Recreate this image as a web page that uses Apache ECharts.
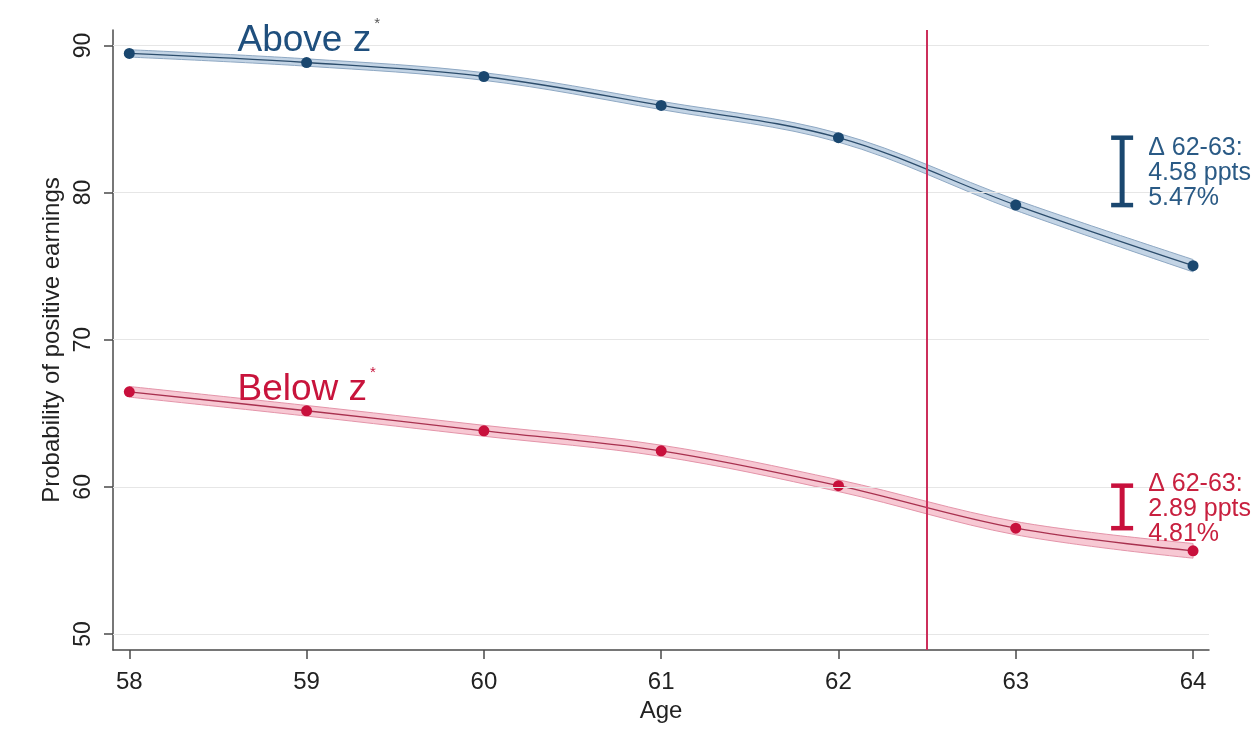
<!DOCTYPE html>
<html>
<head>
<meta charset="utf-8">
<script src="https://cdn.jsdelivr.net/npm/echarts@6/dist/echarts.min.js"></script>
<style>
html,body{margin:0;padding:0;background:#fff;}
#chart{width:1259px;height:746px;}
</style>
</head>
<body>
<div id="chart"></div>
<script>
const ages = [58, 59, 60, 61, 62, 63, 64];
const aboveVals = [89.46, 88.84, 87.89, 85.92, 83.73, 79.15, 75.03];
const belowVals = [66.46, 65.17, 63.81, 62.45, 60.08, 57.19, 55.65];
const aboveHalfCI = [0.25, 0.25, 0.26, 0.28, 0.30, 0.36, 0.42];
const belowHalfCI = [0.36, 0.36, 0.37, 0.38, 0.40, 0.45, 0.50];
const yTicks = [50, 60, 70, 80, 90];
const xTicks = [58, 59, 60, 61, 62, 63, 64];
const groupNames = ['Above z', 'Below z'];
const aboveDeltaText = ['Δ 62-63:', '4.58 ppts', '5.47%'];
const belowDeltaText = ['Δ 62-63:', '2.89 ppts', '4.81%'];
const cutoffAge = 62.5;
const deltaBarAge = 63.6;
const labelAge = 58.61;

const BLUE = '#1a476f';
const RED = '#c8103c';
const FONT = 'Liberation Sans, Arial, sans-serif';
const SMOOTH = 0.35;

function pairs(xs, ys) { return xs.map((x, i) => [x, ys[i]]); }

function smoothSegs(pts, smooth, start) {
  let d = (start ? 'M' : 'L') + pts[0][0] + ' ' + pts[0][1];
  let cp0 = pts[0].slice();
  const n = pts.length;
  for (let i = 1; i < n; i++) {
    const cur = pts[i], prev = pts[i - 1];
    let cp1, nextCp0;
    if (i === n - 1) {
      cp1 = cur.slice();
      nextCp0 = cur.slice();
    } else {
      const next = pts[i + 1];
      const vx = next[0] - prev[0], vy = next[1] - prev[1];
      const l0 = Math.hypot(cur[0] - prev[0], cur[1] - prev[1]);
      const l1 = Math.hypot(next[0] - cur[0], next[1] - cur[1]);
      const r = l1 / (l0 + l1);
      cp1 = [cur[0] - vx * smooth * (1 - r), cur[1] - vy * smooth * (1 - r)];
      nextCp0 = [cur[0] + vx * smooth * r, cur[1] + vy * smooth * r];
      for (let k = 0; k < 2; k++) {
        cp1[k] = Math.min(cp1[k], Math.max(prev[k], cur[k]));
        cp1[k] = Math.max(cp1[k], Math.min(prev[k], cur[k]));
        nextCp0[k] = Math.min(nextCp0[k], Math.max(next[k], cur[k]));
        nextCp0[k] = Math.max(nextCp0[k], Math.min(next[k], cur[k]));
      }
    }
    d += ' C' + cp0[0] + ' ' + cp0[1] + ' ' + cp1[0] + ' ' + cp1[1] + ' ' + cur[0] + ' ' + cur[1];
    cp0 = nextCp0;
  }
  return d;
}

const bands = [
  { vals: aboveVals, ci: aboveHalfCI, fill: '#c3d4e5', edge: '#8ea8c3' },
  { vals: belowVals, ci: belowHalfCI, fill: '#f7c8d3', edge: '#e494a9' }
];

const chart = echarts.init(document.getElementById('chart'), null, { renderer: 'canvas' });

const option = {
  animation: false,
  backgroundColor: '#ffffff',
  textStyle: { fontFamily: FONT },
  grid: { left: 113, right: 50, top: 30, bottom: 96, containLabel: false },
  xAxis: {
    type: 'value', min: 57.908, max: 64.09,
    name: 'Age', nameLocation: 'middle', nameGap: 45,
    nameTextStyle: { fontSize: 24, color: '#222', fontFamily: FONT },
    axisLine: { show: true, onZero: false, lineStyle: { color: '#4a4a4a', width: 1.5 } },
    axisTick: { show: true, length: 9, customValues: xTicks, lineStyle: { color: '#4a4a4a', width: 1.5 } },
    axisLabel: { customValues: xTicks, fontSize: 24, color: '#222', margin: 20, fontFamily: FONT },
    splitLine: { show: false }
  },
  yAxis: {
    type: 'value', min: 48.91, max: 91.05,
    name: 'Probability of positive earnings', nameLocation: 'middle', nameGap: 44,
    nameTextStyle: { fontSize: 24, color: '#222', fontFamily: FONT },
    axisLine: { show: true, onZero: false, lineStyle: { color: '#4a4a4a', width: 1.5 } },
    axisTick: { show: true, length: 9, customValues: yTicks, lineStyle: { color: '#4a4a4a', width: 1.5 } },
    axisLabel: { customValues: yTicks, rotate: 90, fontSize: 23, color: '#222', margin: 18, fontFamily: FONT },
    splitLine: { show: false }
  },
  series: [
    {
      type: 'line', data: [], silent: true,
      markLine: {
        silent: true, symbol: 'none', animation: false,
        label: { show: false },
        lineStyle: { color: '#e6e6e6', width: 1.2, type: 'solid' },
        data: yTicks.map(v => ({ yAxis: v }))
      },
      z: 0
    },
    {
      type: 'custom', silent: true, z: 1,
      data: [[ages[0], bands[0].vals[0], 0], [ages[0], bands[1].vals[0], 1]],
      encode: { x: 0, y: 1 },
      renderItem: function (params, api) {
        const b = bands[api.value(2)];
        const up = ages.map((a, i) => api.coord([a, b.vals[i] + b.ci[i]]));
        const lo = ages.map((a, i) => api.coord([a, b.vals[i] - b.ci[i]])).reverse();
        const d = smoothSegs(up, SMOOTH, true) + ' ' + smoothSegs(lo, SMOOTH, false) + ' Z';
        return {
          type: 'path',
          shape: { pathData: d },
          style: { fill: b.fill, stroke: b.edge, lineWidth: 1 }
        };
      }
    },
    {
      type: 'line', name: 'above', smooth: SMOOTH, data: pairs(ages, aboveVals),
      symbol: 'circle', symbolSize: 11,
      itemStyle: { color: BLUE },
      lineStyle: { color: '#2c4d6c', width: 1.3 }, z: 3
    },
    {
      type: 'line', name: 'below', smooth: SMOOTH, data: pairs(ages, belowVals),
      symbol: 'circle', symbolSize: 11,
      itemStyle: { color: RED },
      lineStyle: { color: '#a8314f', width: 1.3 }, z: 3,
      markLine: {
        silent: true, symbol: 'none', animation: false,
        label: { show: false },
        lineStyle: { color: '#cc2f5b', width: 2, type: 'solid' },
        data: [{ xAxis: cutoffAge }]
      }
    },
    {
      type: 'custom', silent: true, z: 5,
      data: [
        [labelAge, 90.3, 0],
        [labelAge, 66.58, 1]
      ],
      encode: { x: 0, y: 1 },
      renderItem: function (params, api) {
        const p = api.coord([api.value(0), api.value(1)]);
        const idx = api.value(2);
        const k = idx === 0 ? 'B' : 'R';
        return {
          type: 'text',
          style: {
            text: '{a' + k + '|' + groupNames[idx] + '}{s' + k + '|*}',
            x: p[0], y: p[1], align: 'left', verticalAlign: 'middle',
            rich: {
              aB: { fontSize: 37, fontFamily: FONT, lineHeight: 50, fill: '#1f4f7d' },
              sB: { fontSize: 15, fontFamily: FONT, verticalAlign: 'top', padding: [0, 0, 0, 3], lineHeight: 20, fill: '#555555' },
              aR: { fontSize: 37, fontFamily: FONT, lineHeight: 50, fill: '#c8143c' },
              sR: { fontSize: 15, fontFamily: FONT, verticalAlign: 'top', padding: [0, 0, 0, 3], lineHeight: 20, fill: '#c8143c' }
            }
          }
        };
      }
    },
    {
      type: 'custom', silent: true, z: 6,
      data: [
        [deltaBarAge, aboveVals[4], aboveVals[5], 0],
        [deltaBarAge, belowVals[4], belowVals[5], 1]
      ],
      encode: { x: 0, y: [1, 2] },
      renderItem: function (params, api) {
        const x = api.value(0);
        const p1 = api.coord([x, api.value(1)]);
        const p2 = api.coord([x, api.value(2)]);
        const idx = api.value(3);
        const col = idx === 0 ? BLUE : RED;
        const txt = (idx === 0 ? aboveDeltaText : belowDeltaText).join('\n');
        const half = 11;
        return {
          type: 'group',
          children: [
            { type: 'line', shape: { x1: p1[0], y1: p1[1], x2: p2[0], y2: p2[1] }, style: { stroke: col, lineWidth: 5 } },
            { type: 'line', shape: { x1: p1[0] - half, y1: p1[1], x2: p1[0] + half, y2: p1[1] }, style: { stroke: col, lineWidth: 4.5 } },
            { type: 'line', shape: { x1: p2[0] - half, y1: p2[1], x2: p2[0] + half, y2: p2[1] }, style: { stroke: col, lineWidth: 4.5 } },
            {
              type: 'text',
              style: {
                text: txt, x: p1[0] + 26, y: (p1[1] + p2[1]) / 2 + 2,
                align: 'left', verticalAlign: 'middle',
                fontSize: 25, fontFamily: FONT, lineHeight: 25,
                fill: idx === 0 ? '#2a5a85' : '#c8203f'
              }
            }
          ]
        };
      }
    }
  ]
};

chart.setOption(option);
</script>
</body>
</html>
